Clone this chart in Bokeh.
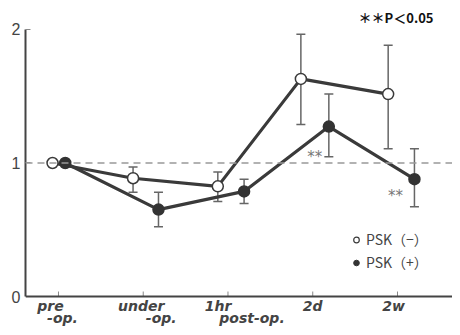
import math
from bokeh.plotting import figure
from bokeh.models import (ColumnDataSource, Whisker, TeeHead, Span, Label,
                          Legend, LegendItem, FixedTicker)
from bokeh.embed import file_html
from bokeh.resources import INLINE

# ---- data ----
categories = ["pre-op.", "under-op.", "1hr post-op.", "2d", "2w"]
label_line1 = ["pre", "under", "1hr", "2d", "2w"]
label_line2 = ["-op.", "-op.", "post-op.", "", ""]
psk_minus = [1.0, 0.886, 0.825, 1.630, 1.516]
psk_minus_upper = [1.0, 0.970, 0.932, 1.964, 1.881]
psk_minus_lower = [1.0, 0.780, 0.711, 1.289, 1.106]
psk_plus = [1.0, 0.651, 0.787, 1.273, 0.879]
psk_plus_upper = [1.0, 0.780, 0.879, 1.516, 1.106]
psk_plus_lower = [1.0, 0.522, 0.696, 1.046, 0.673]
significant_plus = [False, False, False, True, True]
y_ticks = [0, 1, 2]
note_text = "＊＊P＜0.05"

# ---- style / layout ----
minus_dx = [-0.07, -0.12, -0.12, -0.14, -0.11]   # dodge offsets per category
plus_dx = [0.08, 0.18, 0.19, 0.19, 0.20]
line1_dx = [-8, -2, -10, 0, -4]                   # label offsets in px
line2_dx = [4, 18, 24, 0, 0]
INK = "#3a3a3a"
GREY = "#666666"

idx = list(range(len(categories)))
xm = [i + d for i, d in zip(idx, minus_dx)]
xp = [i + d for i, d in zip(idx, plus_dx)]

p = figure(width=452, height=327, output_backend="svg", toolbar_location=None,
           x_range=(-0.389, 4.649), y_range=(-0.232, 2.217),
           min_border_left=25, min_border_right=0, min_border_top=0,
           min_border_bottom=0)
p.grid.visible = False
p.outline_line_color = None
p.background_fill_color = "white"
p.xaxis.visible = False

# y axis
p.yaxis.ticker = FixedTicker(ticks=y_ticks)
p.yaxis.bounds = (min(y_ticks), max(y_ticks))
p.yaxis.major_label_text_font = "Liberation Sans"
p.yaxis.major_label_text_font_size = "16px"
p.yaxis.major_label_text_color = "#444444"
p.yaxis.major_label_standoff = 5
p.yaxis.axis_line_color = "#444444"
p.yaxis.axis_line_width = 2
p.yaxis.major_tick_in = 5
p.yaxis.major_tick_out = 0
p.yaxis.major_tick_line_color = "#888888"
p.yaxis.minor_tick_line_color = None

# x axis line, ticks, labels (drawn inside the plot area)
p.add_layout(Span(location=min(y_ticks), dimension="width",
                  line_color="#444444", line_width=2))
p.ray(x=idx, y=[min(y_ticks)] * len(idx), length=5, length_units="screen",
      angle=math.pi / 2, line_color="#888888", line_width=1)
for i in idx:
    for txt, dx, dy in ((label_line1[i], line1_dx[i], -9),
                        (label_line2[i], line2_dx[i], -21)):
        if txt:
            p.add_layout(Label(x=i, y=min(y_ticks), text=txt, x_offset=dx,
                               y_offset=dy, text_align="center",
                               text_baseline="middle", text_font="DejaVu Sans",
                               text_font_style="bold italic",
                               text_font_size="14px", text_color="#444444"))

# reference line at 1
p.add_layout(Span(location=1, dimension="width", line_color="#999999",
                  line_width=1.5, line_dash="7 5"))

# error bars (skip pre-op, which has none)
def bars(x, lo, hi):
    src = ColumnDataSource(dict(x=x[1:], lo=lo[1:], hi=hi[1:]))
    w = Whisker(source=src, base="x", lower="lo", upper="hi",
                line_color=GREY, line_width=1.5,
                upper_head=TeeHead(size=9, line_color=GREY, line_width=1.5),
                lower_head=TeeHead(size=9, line_color=GREY, line_width=1.5))
    p.add_layout(w)

bars(xm, psk_minus_lower, psk_minus_upper)
bars(xp, psk_plus_lower, psk_plus_upper)

# lines
p.line(xm, psk_minus, line_color=INK, line_width=3.2)
p.line(xp, psk_plus, line_color=INK, line_width=3.2)

# markers
p.scatter(xm, psk_minus, marker="circle", size=11, fill_color="white",
          line_color=INK, line_width=1.5)
p.scatter(xp, psk_plus, marker="circle", size=11, fill_color="#333333",
          line_color="#333333", line_width=1.5)

# significance stars
for i, s in enumerate(significant_plus):
    if s:
        lab_y = psk_plus_lower[i] if i == 3 else psk_plus[i]
        p.add_layout(Label(x=xp[i], y=lab_y, text="**",
                           x_offset=-14 if i == 3 else -19,
                           y_offset=0 if i == 3 else -17,
                           text_align="center", text_baseline="middle",
                           text_font_size="15px", text_color="#777777",
                           text_font="DejaVu Sans"))

# legend: sample renderers placed outside the visible range
r_m = p.scatter([-5], [-5], marker="circle", size=8, fill_color="white",
                line_color=INK, line_width=1.2)
r_p = p.scatter([-5], [-5], marker="circle", size=8, fill_color="#333333",
                line_color="#333333")
legend = Legend(items=[LegendItem(label="PSK（−）", renderers=[r_m]),
                       LegendItem(label="PSK（+）", renderers=[r_p])],
                location=(324, 55), orientation="vertical",
                border_line_color=None, background_fill_alpha=0,
                label_text_font="Noto Sans CJK JP", label_text_font_size="14px",
                label_text_color="#444444", glyph_width=14, glyph_height=17,
                label_standoff=3, padding=0, spacing=3, margin=0,
                label_height=17)
p.add_layout(legend)

# note top right
p.add_layout(Label(x=4.425, y=2.09, text=note_text,
                   text_align="right", text_baseline="middle",
                   text_font="Noto Sans CJK JP", text_font_style="bold",
                   text_font_size="13px", text_color="#111111"))

html = file_html(p, INLINE)
open("out.html", "w").write(html)
